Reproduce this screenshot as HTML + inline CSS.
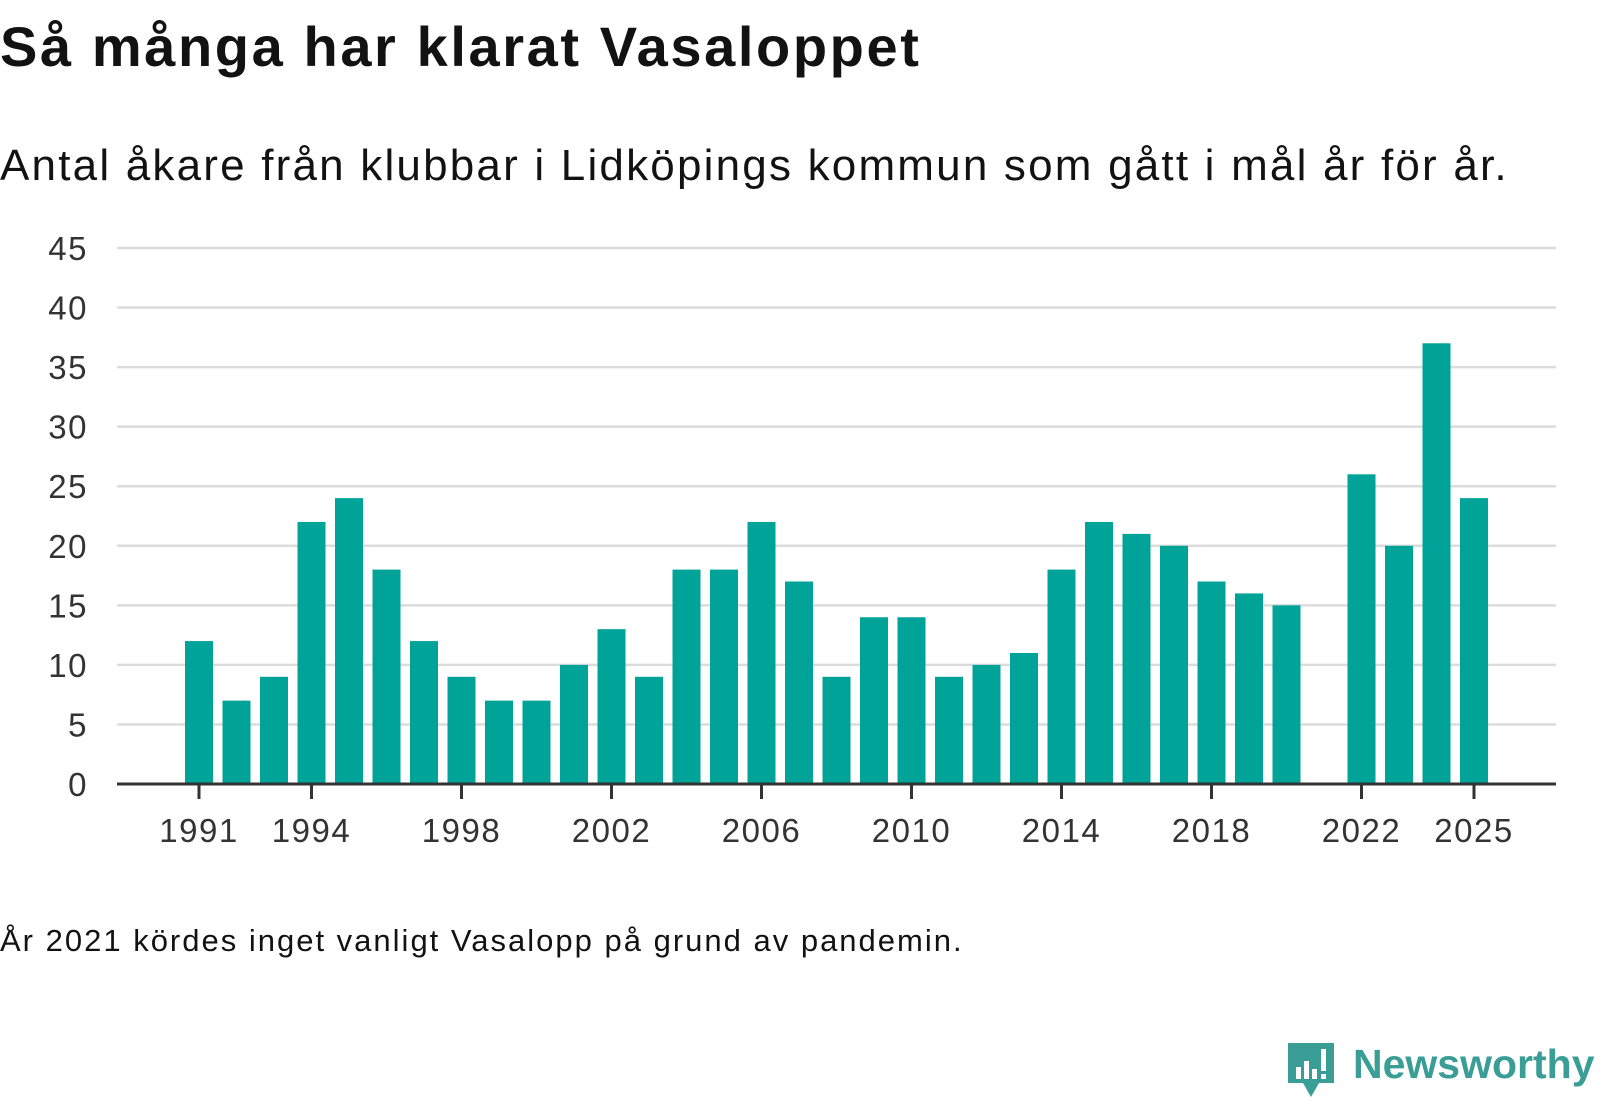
<!DOCTYPE html>
<html><head><meta charset="utf-8"><style>
body{margin:0;width:1600px;height:1100px;background:#fff;font-family:"Liberation Sans","DejaVu Sans",sans-serif;color:#121212;overflow:hidden;position:relative}
.t{position:absolute;left:0;white-space:nowrap}
</style></head><body>
<div class="t" style="top:14px;font-size:56px;font-weight:bold;letter-spacing:2.6px">Så många har klarat Vasaloppet</div>
<div class="t" style="top:141px;font-size:44px;letter-spacing:2.2px">Antal åkare från klubbar i Lidköpings kommun som gått i mål år för år.</div>
<svg id="chart" width="1600" height="900" style="position:absolute;left:0;top:0" xmlns="http://www.w3.org/2000/svg"></svg>
<div class="t" style="top:923px;font-size:31px;letter-spacing:2px">År 2021 kördes inget vanligt Vasalopp på grund av pandemin.</div>
<div style="position:absolute;left:1286px;top:1041px;height:60px">
<svg width="50" height="58" style="position:absolute;left:0;top:0"><path d="M2 2h46v40H33l-8 14-8-14H2z" fill="#3a9e96"/><rect x="10" y="26" width="5" height="12" fill="#fff"/><rect x="18" y="20" width="5" height="18" fill="#fff"/><rect x="26" y="28" width="5" height="10" fill="#fff"/><rect x="35" y="8" width="5" height="22" fill="#fff"/><rect x="35" y="33" width="5" height="5" fill="#fff"/></svg>
<div style="position:absolute;left:67px;top:0;font-size:41px;font-weight:bold;color:#3a9e96;white-space:nowrap">Newsworthy</div></div>
<script>
const years=[1991,1992,1993,1994,1995,1996,1997,1998,1999,2000,2001,2002,2003,2004,2005,2006,2007,2008,2009,2010,2011,2012,2013,2014,2015,2016,2017,2018,2019,2020,2021,2022,2023,2024,2025];
const values=[12,7,9,22,24,18,12,9,7,7,10,13,9,18,18,22,17,9,14,14,9,10,11,18,22,21,20,17,16,15,null,26,20,37,24];
const yTicks=[0,5,10,15,20,25,30,35,40,45];
const xTickLabels=[1991,1994,1998,2002,2006,2010,2014,2018,2022,2025];
const NS="http://www.w3.org/2000/svg",svg=document.getElementById('chart');
const x=yr=>199+(yr-1991)*37.5;
const y=v=>784-v*(536/45);
function mk(t,a){const e=document.createElementNS(NS,t);for(const k in a)e.setAttribute(k,a[k]);svg.appendChild(e);return e;}
yTicks.forEach(v=>{
 if(v>0){const g=mk('line',{x1:117,x2:1556,y1:y(v),y2:y(v),stroke:'#dcdcdc','stroke-width':2.5});
 
 }
 const t=mk('text',{x:88,y:y(v)+12,'text-anchor':'end','font-size':33,'letter-spacing':1.5,fill:'#333','font-family':'Liberation Sans, sans-serif'});t.textContent=v;
 
 
});
years.forEach((yr,i)=>{const v=values[i];if(v==null)return;
 const b=mk('rect',{x:x(yr)-14,y:y(v),width:28,height:y(0)-y(v),fill:'#00a398'});
 
 
});
const ax=mk('line',{x1:117,x2:1556,y1:784,y2:784,stroke:'#333','stroke-width':3});


xTickLabels.forEach(yr=>{
 const tk=mk('line',{x1:x(yr),x2:x(yr),y1:784,y2:799,stroke:'#333','stroke-width':3});
 
 
 const t=mk('text',{x:x(yr),y:842,'text-anchor':'middle','font-size':33,'letter-spacing':1.5,fill:'#333','font-family':'Liberation Sans, sans-serif'});t.textContent=yr;
 
 
});
</script>
</body></html>
